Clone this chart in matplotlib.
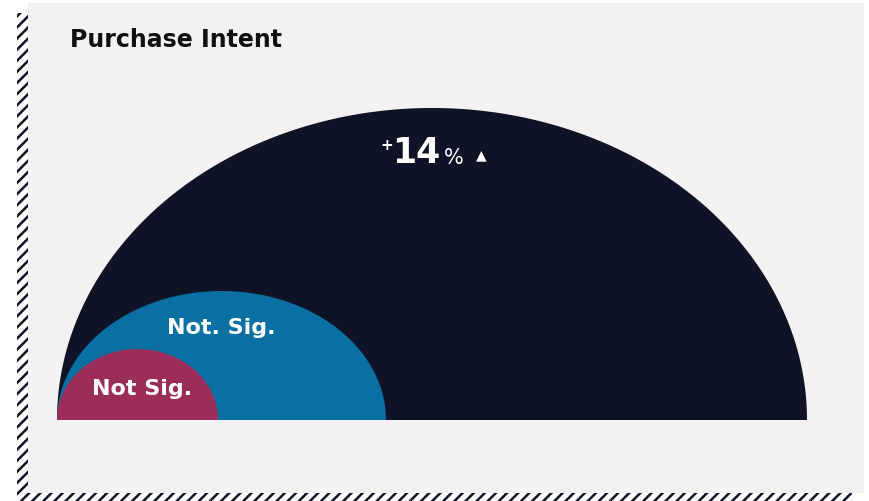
import matplotlib.pyplot as plt
import numpy as np
from matplotlib.patches import Rectangle

plt.rcParams['hatch.linewidth'] = 1.8
plt.rcParams['hatch.color'] = '#0e1326'

# Half-ellipse sizes (drawing units), largest first
labels = ['+14%', 'Not. Sig.', 'Not Sig.']
widths = [750, 329, 161]
heights = [312, 129, 71]
colors = ['#0e1326', '#0870a3', '#9c2d5a']

base_x = 57
base_y = 420

fig = plt.figure(figsize=(8.69, 5.01), dpi=100)
ax = fig.add_axes([0, 0, 1, 1])
ax.set_xlim(0, 869)
ax.set_ylim(501, 0)
ax.axis('off')

# Hatched frame and grey panel
ax.add_patch(Rectangle((17, 13), 11, 488, facecolor='white', hatch='///',
                       edgecolor='#0e1326', linewidth=0))
ax.add_patch(Rectangle((17, 493), 835, 8, facecolor='white', hatch='///',
                       edgecolor='#0e1326', linewidth=0))
ax.add_patch(Rectangle((28, 3), 836, 490, facecolor='#f2f2f2', linewidth=0))

t = np.linspace(0, np.pi, 400)
for w, h, c in zip(widths, heights, colors):
    cx = base_x + w / 2
    xs = cx + (w / 2) * np.cos(t)
    ys = base_y - h * np.sin(t)
    ax.fill(xs, ys, color=c, linewidth=0)

font = 'DejaVu Sans'
ax.text(70, 40, 'Purchase Intent', fontsize=17, fontweight='bold',
        family=font, color='#111111', va='center', ha='left')

# big value label
ax.text(387, 146, '+', fontsize=11, fontweight='bold', family=font,
        color='white', va='center', ha='center')
ax.text(416, 153, '14', fontsize=25, fontweight='bold', family=font,
        color='white', va='center', ha='center')
ax.text(444, 158, '%', fontsize=15, family=font,
        color='white', va='center', ha='left')
ax.text(481, 155, '\u25B2', fontsize=10, family=font,
        color='white', va='center', ha='center')

ax.text(221, 328, labels[1], fontsize=16, fontweight='bold', family=font,
        color='white', va='center', ha='center')
ax.text(142, 389, labels[2], fontsize=16, fontweight='bold', family=font,
        color='white', va='center', ha='center')

fig.savefig('out.png', dpi=100, facecolor='white')
